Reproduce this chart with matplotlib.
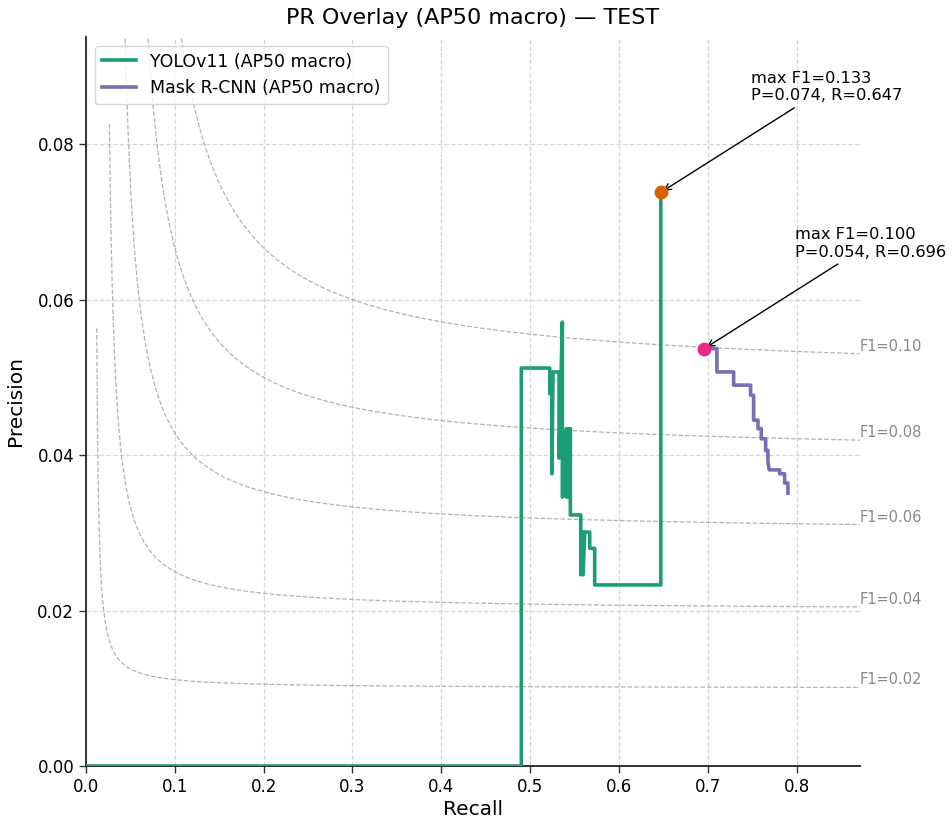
import numpy as np
import matplotlib
matplotlib.use("Agg")
import matplotlib.pyplot as plt

# ---------------- data ----------------
yolo_recall = [0.000, 0.490, 0.490, 0.522, 0.522, 0.5245, 0.5245, 0.5257, 0.5325, 0.5325,
               0.5362, 0.5362, 0.5405, 0.5405, 0.5428, 0.5428, 0.5452, 0.5452, 0.5569,
               0.5569, 0.5595, 0.5595, 0.5614, 0.5670, 0.5670, 0.5726, 0.5726, 0.647, 0.647]
yolo_precision = [0.0000, 0.0000, 0.0512, 0.0512, 0.0479, 0.0479, 0.0376, 0.0507, 0.0507, 0.0396,
                  0.0571, 0.0346, 0.0434, 0.0346, 0.0434, 0.0346, 0.0434, 0.0323, 0.0323,
                  0.0246, 0.0301, 0.0246, 0.0301, 0.0301, 0.0280, 0.0280, 0.0233, 0.0233, 0.0738]

mrcnn_recall = [0.696, 0.7102, 0.7102, 0.7290, 0.7290, 0.7481, 0.7481, 0.7515, 0.7515,
                0.7564, 0.7564, 0.7601, 0.7601, 0.7650, 0.7650, 0.7676, 0.7676, 0.7690,
                0.7807, 0.7807, 0.7864, 0.7864, 0.7901, 0.7901]
mrcnn_precision = [0.0537, 0.0537, 0.0507, 0.0507, 0.0490, 0.0490, 0.0477, 0.0477, 0.0445,
                   0.0445, 0.0434, 0.0434, 0.0421, 0.0421, 0.0406, 0.0406, 0.0391, 0.0381,
                   0.0381, 0.0376, 0.0376, 0.0364, 0.0364, 0.0351]

yolo_best = (0.647, 0.0738, 0.133)   # recall, precision, F1
mrcnn_best = (0.696, 0.0537, 0.100)

iso_f1 = [0.02, 0.04, 0.06, 0.08, 0.10]
iso_pstart = [0.0563, 0.0826, 0.2, 0.2, 0.2]

series_labels = ["YOLOv11 (AP50 macro)", "Mask R-CNN (AP50 macro)"]
title = "PR Overlay (AP50 macro) \u2014 TEST"

# ---------------- plot ----------------
GREEN = "#1b9e77"
PURPLE = "#7570b3"
ORANGE = "#d95f02"
PINK = "#e7298a"

XMAX = 0.871
YMAX = 0.0938

fig = plt.figure(figsize=(9.53, 8.22), dpi=100)
ax = fig.add_axes([0.0902, 0.0681, 0.812, 0.887])

ax.grid(True, linestyle="--", color="#cccccc", linewidth=0.9, alpha=0.8)
ax.set_axisbelow(True)

for f, p0 in zip(iso_f1, iso_pstart):
    r0 = f * p0 / (2 * p0 - f)
    t = np.linspace(0, 1, 2000)
    r = r0 + (XMAX - r0) * t ** 2
    p = f * r / (2 * r - f)
    ax.plot(r, p, linestyle="--", color="#999999", linewidth=0.9, alpha=0.75, zorder=1)
    ax.text(r[-1], p[-1], f"F1={f:.2f}", color="#888888", fontsize=10.5,
            ha="left", va="bottom", clip_on=False)

ax.plot(yolo_recall, yolo_precision, color=GREEN, linewidth=2.6, label=series_labels[0], zorder=3)
ax.plot(mrcnn_recall, mrcnn_precision, color=PURPLE, linewidth=2.6, label=series_labels[1], zorder=3)

for (r, p, f), c in [(yolo_best, ORANGE), (mrcnn_best, PINK)]:
    ax.plot([r], [p], "o", color=c, markersize=9, zorder=4)
    ax.annotate(f"max F1={f:.3f}\nP={p:.3f}, R={r:.3f}", xy=(r, p),
                xytext=(65, 64), textcoords="offset points", fontsize=11.7,
                ha="left", va="bottom",
                arrowprops=dict(arrowstyle="->", color="black", lw=1.0))

ax.set_xlim(0, XMAX)
ax.set_ylim(0, YMAX)
ax.set_xticks(np.arange(0, 0.81, 0.1))
ax.set_yticks(np.arange(0, 0.081, 0.02))
ax.set_xticklabels([f"{v:.1f}" for v in np.arange(0, 0.81, 0.1)])
ax.set_yticklabels([f"{v:.2f}" for v in np.arange(0, 0.081, 0.02)])
ax.tick_params(labelsize=12, length=5, width=1, color="#333333")

for s in ["top", "right"]:
    ax.spines[s].set_visible(False)
for s in ["left", "bottom"]:
    ax.spines[s].set_color("#222222")
    ax.spines[s].set_linewidth(1.3)

ax.set_xlabel("Recall", fontsize=14.5, labelpad=3)
ax.set_ylabel("Precision", fontsize=14.5, labelpad=9)
ax.set_title(title, fontsize=16, pad=9)

ax.legend(loc="upper left", fontsize=12.5, frameon=True, handlelength=2.0, borderaxespad=0.5)

fig.savefig("out.png", dpi=100)
